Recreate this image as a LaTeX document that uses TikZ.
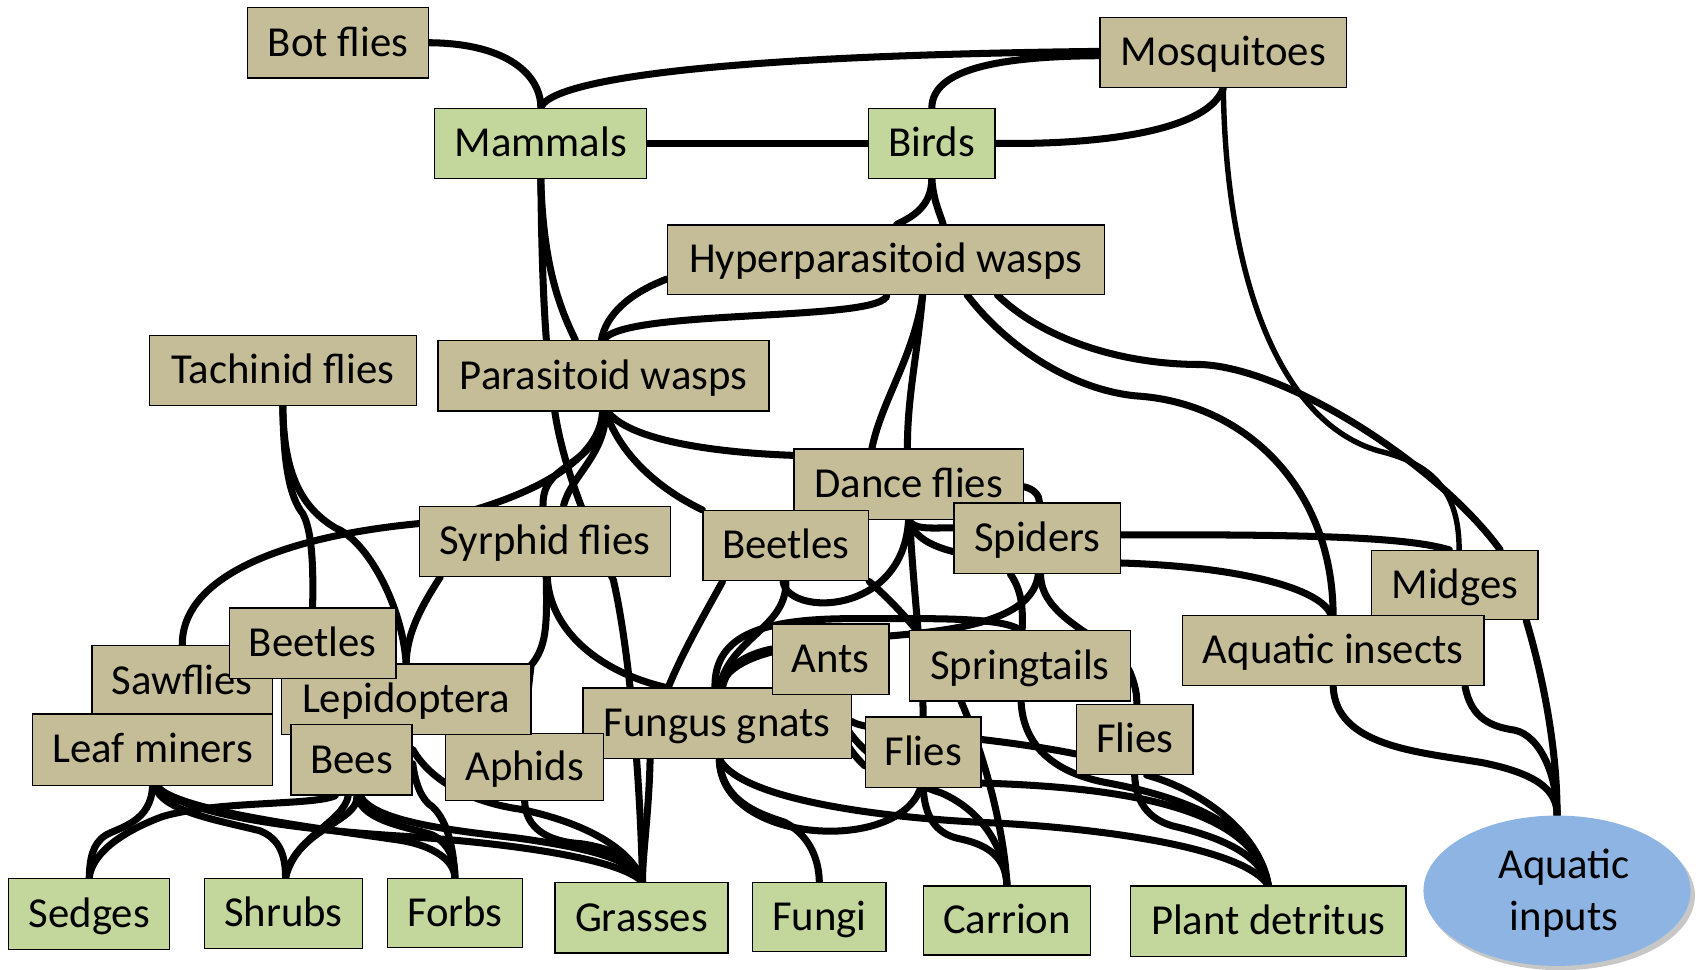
\documentclass[tikz,border=0pt]{standalone}
\usepackage{fontspec}
\setmainfont{Carlito}
\usetikzlibrary{shapes.geometric}
\definecolor{cTan}{HTML}{C4BD97}
\definecolor{cGreen}{HTML}{C3D69B}
\definecolor{cBlue}{HTML}{8EB4E3}
\pgfdeclarelayer{background}
\pgfsetlayers{background,main}
\tikzset{
  tbox/.style={draw=black, line width=1.2pt, fill=cTan, minimum height=65pt, inner sep=0pt,
    text height=32pt, text depth=7.4pt, font=\fontsize{39.5}{46}\selectfont},
  gbox/.style={tbox, fill=cGreen},
  web/.style={line width=6.5pt, line cap=round, draw=black},
}
\begin{document}
\begin{tikzpicture}[x=1pt,y=-1pt]
\useasboundingbox (0,0) rectangle (1568,896);
% nodes
\node[tbox, minimum width=167pt] (botflies) at (312.5,39.5) {Bot flies};
\node[tbox, minimum width=228pt] (mosq) at (1131,48.5) {Mosquitoes};
\node[gbox, minimum width=196pt] (mammals) at (500,132.5) {Mammals};
\node[gbox, minimum width=117pt] (birds) at (861.5,132.5) {Birds};
\node[tbox, minimum width=404pt, minimum height=64pt] (hyper) at (819,240) {Hyperparasitoid wasps};
\node[tbox, minimum width=247pt] (tach) at (261.5,342.5) {Tachinid flies};
\node[tbox, minimum width=306pt] (paras) at (558,347.5) {Parasitoid wasps};
\node[tbox, minimum width=212pt] (dance) at (840,447.5) {Dance flies};
\node[tbox, minimum width=153pt] (beetM) at (726.5,504.5) {Beetles};
\node[tbox, minimum width=154pt] (spiders) at (959,497.5) {Spiders};
\node[tbox, minimum width=232pt] (syrph) at (504,500.5) {Syrphid flies};
\node[tbox, minimum width=154pt, minimum height=64pt] (midges) at (1345,541) {Midges};
\node[tbox, minimum width=279pt] (aquins) at (1232.5,601.5) {Aquatic insects};
\node[tbox, minimum width=167pt] (sawfl) at (168.5,629.5) {Sawflies};
\node[tbox, minimum width=222pt, minimum height=66pt] (leafm) at (141,693) {Leaf miners};
\node[tbox, minimum width=248pt] (fgnats) at (663,668.5) {Fungus gnats};
\node[tbox, minimum width=146pt, minimum height=62pt] (aphids) at (485,709) {Aphids};
\node[tbox, minimum width=231pt] (lepid) at (375.5,646.5) {Lepidoptera};
\node[tbox, minimum width=154pt] (beetL) at (289,594.5) {Beetles};
\node[tbox, minimum width=112pt] (bees) at (325,702.5) {Bees};
\node[tbox, minimum width=108pt] (ants) at (768,609.5) {Ants};
\node[tbox, minimum width=204pt] (springt) at (943,615.5) {Springtails};
\node[tbox, minimum width=107pt] (fliesC) at (853.5,695.5) {Flies};
\node[tbox, minimum width=108pt] (fliesR) at (1049,683.5) {Flies};
\node[gbox, minimum width=149pt, minimum height=66pt] (sedges) at (82.5,845) {Sedges};
\node[gbox, minimum width=146pt] (shrubs) at (262,844.5) {Shrubs};
\node[gbox, minimum width=125pt, minimum height=64pt] (forbs) at (420.5,844) {Forbs};
\node[gbox, minimum width=160pt] (grasses) at (593,848.5) {Grasses};
\node[gbox, minimum width=123pt, minimum height=64pt] (fungi) at (757.5,848) {Fungi};
\node[gbox, minimum width=154pt, minimum height=64pt] (carrion) at (931,851) {Carrion};
\node[gbox, minimum width=255pt] (detritus) at (1172.5,851.5) {Plant detritus};
\node[ellipse, fill=cBlue, inner sep=0pt, minimum width=247pt, minimum height=139pt] (aquin) at (1439.5,823.5) {};
\node[align=center, inner sep=0pt, font=\fontsize{39.5}{48}\selectfont] (aquintext) at (1446,826) {Aquatic\\inputs};
\begin{pgfonlayer}{background}
\fill[black, opacity=0.22] (1443,828) ellipse [x radius=124pt, y radius=69pt];
\begin{scope}[web]
\draw (botflies.east) .. controls (470,40) and (500,70) .. (mammals.north);
\draw (mammals.north) .. controls (508,78) and (620,52) .. ([yshift=1pt]mosq.west);
\draw (birds.north) .. controls (862,65) and (920,52) .. ([yshift=-3pt]mosq.west);
\draw (birds.east) .. controls (1000,134) and (1115,125) .. (mosq.south);
\draw (mammals.east) -- (birds.west);
\draw[line width=5pt] (mosq.south) .. controls (1133,250) and (1180,390) .. (1275,417) .. controls (1330,430) and (1349,460) .. ([xshift=4pt]midges.north);
\draw ([xshift=75pt]hyper.south) .. controls (930,320) and (990,360) .. (1050,366) .. controls (1150,372) and (1232,450) .. (aquins.north);
\draw ([xshift=103pt]hyper.south) .. controls (960,310) and (1030,337) .. (1110,337) .. controls (1190,340) and (1330,430) .. ([xshift=42pt]midges.north);
\draw ([xshift=66pt]midges.south) .. controls (1425,620) and (1440,690) .. (aquin.north);
\draw (aquins.south) .. controls (1235,690) and (1310,695) .. (1370,705) .. controls (1420,715) and (1440,730) .. (aquin.north);
\draw ([xshift=122pt]aquins.south) .. controls (1360,665) and (1380,672) .. (1400,675) .. controls (1425,680) and (1440,720) .. (aquin.north);
\draw ([yshift=3pt]spiders.east) .. controls (1200,494) and (1300,496) .. ([xshift=-5pt]midges.north);
\draw ([yshift=-23pt]spiders.east) .. controls (1150,524) and (1222,545) .. ([xshift=-2pt]aquins.north);
\draw ([xshift=1pt]hyper.south) .. controls (818,298) and (575,285) .. (paras.north);
\draw ([yshift=-18pt]hyper.west) .. controls (580,272) and (560,292) .. ([xshift=-2pt]paras.north);
\draw (birds.south) .. controls (861,190) and (845,200) .. ([xshift=10pt]hyper.north);
\draw (birds.south) .. controls (863,185) and (868,195) .. ([xshift=53pt]hyper.north);
\draw ([xshift=34pt]hyper.south) .. controls (848,330) and (838,370) .. (839,420) .. controls (840,520) and (853,600) .. (fliesC.north);
\draw ([xshift=34pt]hyper.south) .. controls (845,330) and (815,370) .. (806,415) .. controls (801,440) and (798,455) .. ([xshift=69.5pt]beetM.north);
\draw ([xshift=4pt]paras.south) .. controls (580,405) and (650,418) .. ([yshift=26.5pt]dance.west);
\draw ([xshift=2pt]paras.south) .. controls (575,425) and (615,455) .. (beetM.north west);
\draw ([xshift=-1pt]paras.south) .. controls (555,430) and (480,465) .. (388,484) .. controls (270,495) and (168,530) .. (sawfl.north);
\draw ([xshift=3pt]paras.south) .. controls (555,415) and (530,425) .. (515,438) .. controls (505,447) and (502,455) .. ([xshift=-2pt]syrph.north);
\draw ([xshift=2pt]paras.south) .. controls (560,420) and (528,440) .. ([xshift=17pt]syrph.north);
\draw (mammals.south) .. controls (501,260) and (504,330) .. (513,381) .. controls (522,440) and (550,500) .. (567,536) .. controls (582,600) and (592,720) .. ([xshift=1pt]grasses.north);
\draw (mammals.south) .. controls (502,240) and (515,280) .. ([xshift=-26pt]paras.north);
\draw ([xshift=1pt]syrph.south) .. controls (506,580) and (505,598) .. (491,615) .. controls (488,640) and (486,660) .. (aphids.north);
\draw ([xshift=-97pt]syrph.south) .. controls (390,560) and (376,585) .. (lepid.north);
\draw ([xshift=2pt]syrph.south) .. controls (508,580) and (550,620) .. ([xshift=-48pt]fgnats.north);
\draw (tach.south) .. controls (262,430) and (268,460) .. (280,475) .. controls (288,490) and (290,520) .. (beetL.north);
\draw (tach.south) .. controls (262,440) and (280,470) .. (310,488) .. controls (340,500) and (372,560) .. (lepid.north);
\draw ([xshift=-58.5pt]beetM.south) .. controls (645,580) and (602,650) .. (601,703) .. controls (600,750) and (594,790) .. ([xshift=1pt]grasses.north);
\draw ([xshift=-2.5pt]beetM.south) .. controls (728,570) and (835,570) .. (dance.south);
\draw (beetM.south) .. controls (728,580) and (675,590) .. ([xshift=2pt]fgnats.north);
\draw ([xshift=-2pt]fgnats.north) .. controls (660,585) and (710,573) .. (780,572) .. controls (860,572) and (925,570) .. (springt.north);
\draw (beetM.south east) .. controls (830,560) and (865,600) .. (880,630) .. controls (905,680) and (928,760) .. (carrion.north);
\draw (dance.south) .. controls (845,490) and (860,488) .. ([yshift=9.5pt]spiders.west);
\draw (dance.south) .. controls (845,497) and (862,505) .. ([yshift=-12.5pt]spiders.west);
\draw ([yshift=-2.5pt]dance.east) .. controls (956,452) and (961,458) .. ([xshift=2pt]spiders.north);
\draw ([xshift=-25pt]spiders.south) .. controls (944,545) and (946,560) .. ([xshift=2pt]springt.north);
\draw ([xshift=1pt]spiders.south) .. controls (955,575) and (880,583) .. (822,588) .. controls (730,595) and (675,605) .. ([xshift=3pt]fgnats.north);
\draw ([yshift=9.5pt]ants.west) .. controls (690,605) and (672,615) .. ([xshift=5pt]fgnats.north);
\draw ([xshift=3pt]spiders.south) .. controls (962,575) and (1030,590) .. (1045,622) .. controls (1050,635) and (1051,642) .. ([xshift=2pt]fliesR.north);
\draw ([xshift=-1pt]ants.south) .. controls (770,670) and (785,695) .. ([yshift=-12.5pt]fliesC.west);
\draw ([xshift=4pt]ants.south) .. controls (776,690) and (835,722) .. (870,733) .. controls (905,748) and (928,780) .. (carrion.north);
\draw (fliesC.south) .. controls (855,755) and (865,770) .. (885,775) .. controls (910,780) and (930,790) .. (carrion.north);
\draw ([xshift=2pt]fgnats.south) .. controls (665,780) and (830,790) .. ([xshift=-2.5pt]fliesC.south);
\draw ([xshift=2pt]fgnats.south) .. controls (667,740) and (700,752) .. (725,760) .. controls (745,770) and (757,790) .. (fungi.north);
\draw ([xshift=2pt]fgnats.south) .. controls (685,740) and (820,757) .. (923,761) .. controls (1030,767) and (1150,785) .. (detritus.north);
\draw ([yshift=1.5pt]fgnats.east) .. controls (800,677) and (900,678) .. ([yshift=-13.5pt]fliesR.west);
\draw ([yshift=-28.5pt]fliesC.east) .. controls (1050,728) and (1160,750) .. (detritus.north);
\draw ([xshift=1pt]springt.south) .. controls (946,690) and (975,715) .. (1025,724) .. controls (1110,740) and (1165,770) .. (detritus.north);
\draw (fliesR.south) .. controls (1050,745) and (1065,760) .. (1090,765) .. controls (1130,775) and (1165,790) .. (detritus.north);
\draw ([xshift=11pt]fliesR.south) .. controls (1110,730) and (1165,770) .. (detritus.north);
\draw (leafm.south) .. controls (140,760) and (110,765) .. (98,772) .. controls (85,780) and (83,795) .. (sedges.north);
\draw ([xshift=2pt]leafm.south) .. controls (150,750) and (200,758) .. (240,768) .. controls (258,775) and (264,790) .. ([xshift=2pt]shrubs.north);
\draw ([xshift=3pt]leafm.south) .. controls (165,750) and (290,765) .. (371,777) .. controls (400,782) and (420,795) .. (forbs.north);
\draw ([xshift=4pt]leafm.south) .. controls (170,755) and (290,768) .. (371,773) .. controls (480,780) and (575,795) .. ([xshift=1pt]grasses.north);
\draw ([xshift=-15pt]bees.south) .. controls (290,745) and (200,740) .. (150,755) .. controls (110,770) and (85,790) .. (sedges.north);
\draw ([xshift=-3pt]bees.south) .. controls (318,760) and (270,775) .. ([xshift=2pt]shrubs.north);
\draw ([xshift=5pt]bees.south) .. controls (332,760) and (275,765) .. ([xshift=2pt]shrubs.north);
\draw ([xshift=5pt]bees.south) .. controls (335,760) and (380,765) .. (400,772) .. controls (415,780) and (421,795) .. (forbs.north);
\draw ([yshift=-3.5pt]bees.east) .. controls (384,725) and (390,740) .. (400,746) .. controls (415,760) and (420,790) .. (forbs.north);
\draw ([yshift=9.5pt]bees.east) .. controls (400,725) and (440,742) .. (480,748) .. controls (540,760) and (585,785) .. ([xshift=1pt]grasses.north);
\draw (aphids.south) .. controls (486,765) and (505,778) .. (537,780) .. controls (565,784) and (590,795) .. ([xshift=1pt]grasses.north);
\draw ([xshift=8pt]bees.south) .. controls (345,760) and (420,768) .. (480,775) .. controls (550,785) and (585,795) .. ([xshift=1pt]grasses.north);
\end{scope}
\end{pgfonlayer}
\end{tikzpicture}
\end{document}
